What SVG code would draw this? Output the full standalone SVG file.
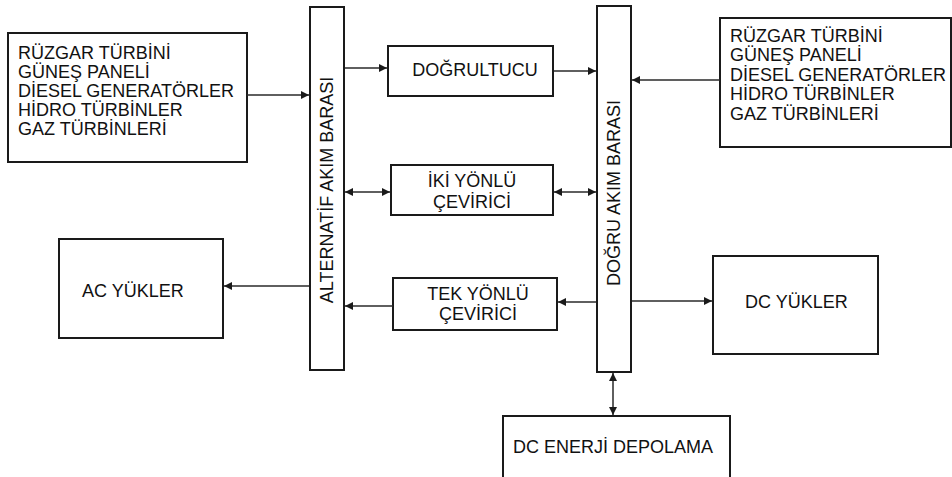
<svg xmlns="http://www.w3.org/2000/svg" width="952" height="477" viewBox="0 0 952 477">
<style>
.box{fill:#fff;stroke:#1a1a1a;stroke-width:2}
.t{font-family:"Liberation Sans",Arial,sans-serif;font-size:18px;fill:#111}
.c{text-anchor:middle}
.ln{stroke:#2a2a2a;stroke-width:1.5;fill:none}
</style>
<defs>
<marker id="ah" viewBox="0 0 10 10" refX="10" refY="5" markerWidth="9" markerHeight="8" markerUnits="userSpaceOnUse" orient="auto-start-reverse"><path d="M0,0 L10,5 L0,10 z" fill="#1a1a1a"/></marker>
</defs>
<g id="src-left"><rect class="box" x="8" y="33" width="239" height="129"/>
<text class="t" x="18" y="58.5">RÜZGAR TÜRBİNİ</text>
<text class="t" x="18" y="77.5">GÜNEŞ PANELİ</text>
<text class="t" x="18" y="96.5">DİESEL GENERATÖRLER</text>
<text class="t" x="18" y="115.5">HİDRO TÜRBİNLER</text>
<text class="t" x="18" y="134.5">GAZ TÜRBİNLERİ</text></g>
<g id="src-right"><rect class="box" x="720" y="18" width="231" height="129"/>
<text class="t" x="730" y="42">RÜZGAR TÜRBİNİ</text>
<text class="t" x="730" y="61">GÜNEŞ PANELİ</text>
<text class="t" x="730" y="80.5">DİESEL GENERATÖRLER</text>
<text class="t" x="730" y="100">HİDRO TÜRBİNLER</text>
<text class="t" x="730" y="119.5">GAZ TÜRBİNLERİ</text></g>
<g id="ac-bus"><rect class="box" x="310" y="7" width="34" height="363"/>
<text class="t c" transform="translate(333,190) rotate(-90)">ALTERNATİF AKIM BARASI</text></g>
<g id="dc-bus"><rect class="box" x="597" y="6" width="34" height="366"/>
<text class="t c" transform="translate(620,193) rotate(-90)">DOĞRU AKIM BARASI</text></g>
<g id="rectifier"><rect class="box" x="388" y="46" width="165" height="50"/>
<text class="t c" x="475" y="76">DOĞRULTUCU</text></g>
<g id="bi-inverter"><rect class="box" x="391" y="165" width="162" height="50"/>
<text class="t c" x="472" y="187">İKİ YÖNLÜ</text>
<text class="t c" x="472" y="208">ÇEVİRİCİ</text></g>
<g id="uni-inverter"><rect class="box" x="393" y="278" width="164" height="52"/>
<text class="t c" x="478" y="300">TEK YÖNLÜ</text>
<text class="t c" x="478" y="320">ÇEVİRİCİ</text></g>
<g id="ac-loads"><rect class="box" x="59" y="239" width="164" height="99"/>
<text class="t" x="82" y="297">AC YÜKLER</text></g>
<g id="dc-loads"><rect class="box" x="713" y="256" width="165" height="98"/>
<text class="t" x="745" y="308">DC YÜKLER</text></g>
<g id="dc-storage"><rect class="box" x="503" y="416" width="227" height="70"/>
<text class="t" x="513" y="453">DC ENERJİ DEPOLAMA</text></g>
<g id="connectors">
<line class="ln" x1="247" y1="95" x2="309" y2="95" marker-end="url(#ah)"/>
<line class="ln" x1="345" y1="68" x2="387" y2="68" marker-end="url(#ah)"/>
<line class="ln" x1="554" y1="71" x2="596" y2="71" marker-end="url(#ah)"/>
<line class="ln" x1="720" y1="80" x2="632" y2="80" marker-end="url(#ah)"/>
<line class="ln" x1="345" y1="192" x2="390" y2="192" marker-start="url(#ah)" marker-end="url(#ah)"/>
<line class="ln" x1="554" y1="192" x2="596" y2="192" marker-start="url(#ah)" marker-end="url(#ah)"/>
<line class="ln" x1="309" y1="286" x2="224" y2="286" marker-end="url(#ah)"/>
<line class="ln" x1="596" y1="302" x2="558" y2="302" marker-end="url(#ah)"/>
<line class="ln" x1="393" y1="306" x2="345" y2="306" marker-end="url(#ah)"/>
<line class="ln" x1="632" y1="301" x2="712" y2="301" marker-end="url(#ah)"/>
<line class="ln" x1="613" y1="373" x2="613" y2="415" marker-start="url(#ah)" marker-end="url(#ah)"/>
</g>
</svg>
